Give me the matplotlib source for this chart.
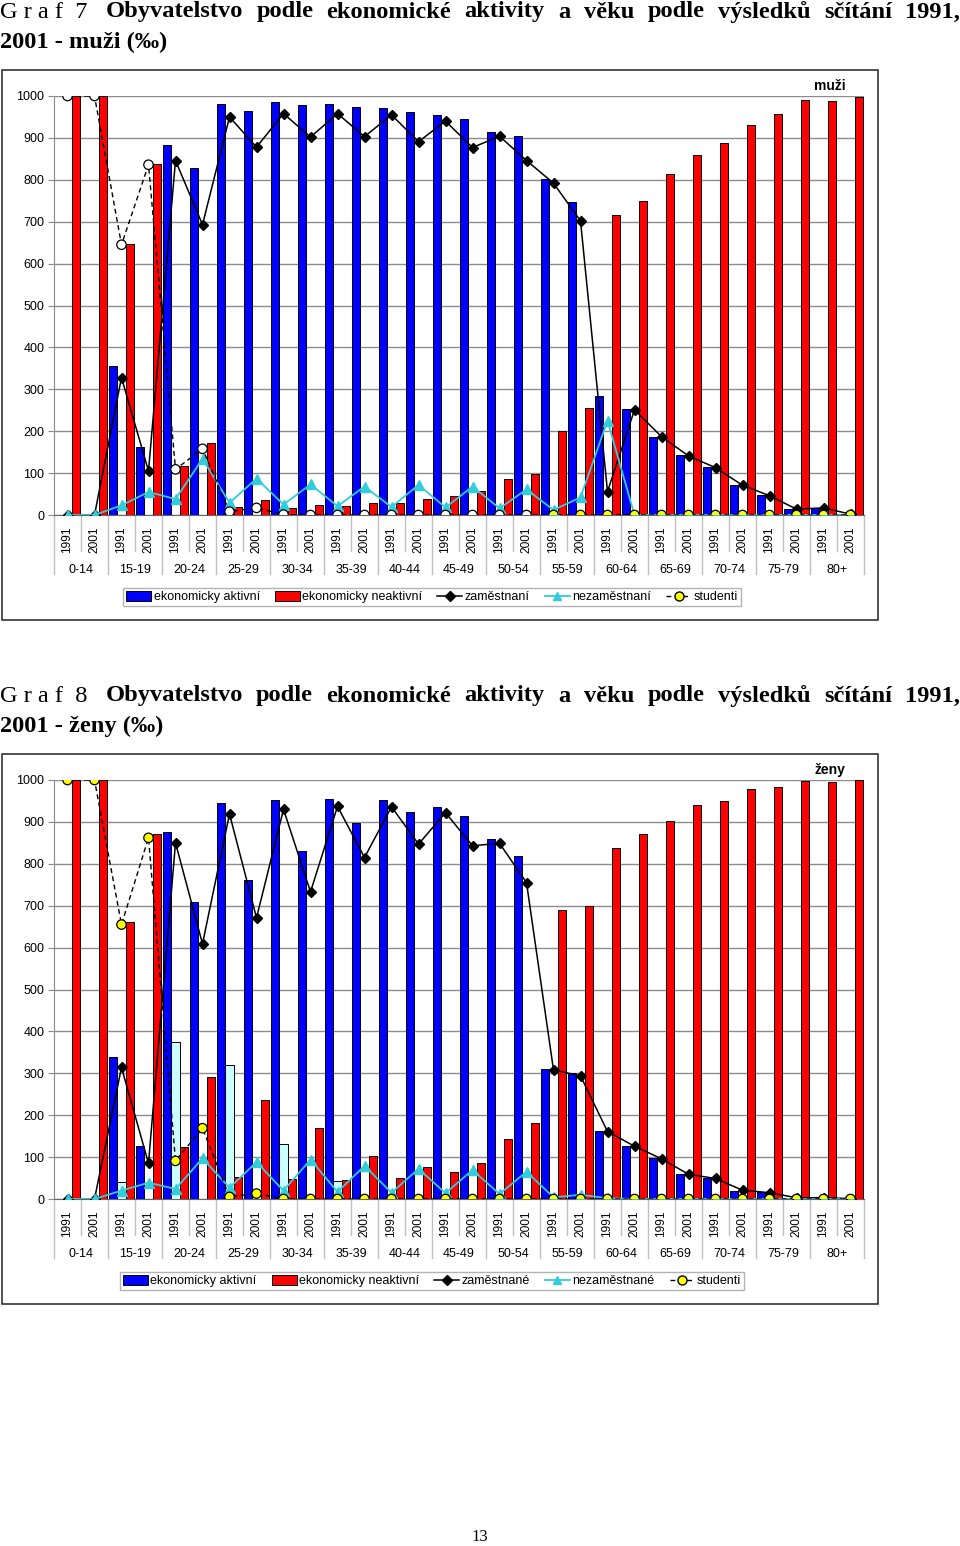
import matplotlib
matplotlib.use('Agg')
import matplotlib.pyplot as plt
from matplotlib.patches import Rectangle, Patch
from matplotlib.lines import Line2D
import numpy as np

W, H = 960, 1546

groups = ['0-14', '15-19', '20-24', '25-29', '30-34', '35-39', '40-44', '45-49',
          '50-54', '55-59', '60-64', '65-69', '70-74', '75-79', '80+']
years = ['1991', '2001']

# muzi (per mille)
muzi_aktivni = [0, 0, 355, 162, 883, 828, 980, 965, 985, 978, 980, 974, 972, 963, 955, 945,
                915, 905, 801, 748, 285, 252, 187, 143, 114, 72, 48, 14, 16, 2]
muzi_neaktivni = [1000, 1000, 647, 838, 118, 173, 20, 36, 17, 23, 21, 28, 29, 38, 45, 57,
                  86, 97, 201, 255, 717, 749, 815, 860, 889, 931, 956, 990, 987, 998]
muzi_stred = [0] * 30
muzi_zam = [0, 0, 328, 105, 846, 693, 950, 878, 958, 902, 958, 903, 955, 891, 940, 877,
            904, 846, 792, 702, 56, 251, 187, 141, 113, 71, 46, 14, 17, 2]
muzi_nezam = [0, 0, 23, 55, 38, 134, 29, 87, 25, 73, 21, 68, 19, 72, 18, 68,
              16, 61, 12, 42, 225, 0, 0, 0, 0, 0, 0, 0, 0, 0]
muzi_stud = [1000, 1000, 645, 836, 109, 158, 8, 17, 1, 0, 0, 0, 0, 0, 0, 0,
             0, 0, 0, 0, 0, 0, 0, 0, 0, 0, 0, 0, 0, 0]

# zeny (per mille)
zeny_aktivni = [0, 0, 338, 127, 875, 710, 946, 762, 952, 831, 955, 898, 952, 924, 935, 915,
                858, 819, 310, 300, 162, 126, 97, 59, 51, 20, 16, 3, 3, 1]
zeny_neaktivni = [1000, 1000, 660, 871, 125, 290, 53, 237, 48, 169, 45, 102, 49, 76, 65, 85,
                  143, 181, 689, 699, 838, 872, 903, 941, 950, 979, 984, 997, 996, 1000]
zeny_stred = [0, 0, 41, 0, 375, 0, 320, 0, 131, 0, 43, 0, 0, 0, 0, 0,
              0, 0, 0, 0, 0, 0, 0, 0, 0, 0, 0, 0, 0, 0]
zeny_zam = [0, 0, 314, 85, 850, 609, 919, 671, 930, 733, 937, 815, 936, 847, 922, 843,
            849, 755, 308, 294, 161, 126, 96, 59, 49, 21, 15, 3, 3, 1]
zeny_nezam = [0, 0, 20, 39, 24, 97, 27, 88, 20, 94, 17, 79, 15, 72, 14, 69,
              12, 65, 4, 10, 2, 0, 0, 0, 0, 0, 0, 0, 0, 0]
zeny_stud = [1000, 1000, 655, 862, 91, 169, 5, 13, 0, 0, 0, 0, 0, 0, 0, 0,
             0, 0, 0, 0, 0, 0, 0, 0, 0, 0, 0, 0, 0, 0]

BLUE = '#0000FF'
RED = '#FF0000'
LIGHT = '#CCFFFF'
CYAN = '#33CCDD'
YELLOW = '#FFFF00'
GRID = '#8c8c8c'
SEP = '#c0c0c0'

plt.rcParams['font.family'] = ['Liberation Sans', 'DejaVu Sans']

fig = plt.figure(figsize=(W / 100, H / 100), dpi=100)


def fx(x):
    return x / W


def fy(y):
    return 1 - y / H


def chart(box_top, aktivni, neaktivni, stred, zam, nezam, stud, stud_faces, nadpis, lab_zam, lab_nezam):
    # outer frame of the chart
    fig.patches.append(Rectangle((fx(2), fy(box_top + 550)), fx(876), 550 / H, transform=fig.transFigure,
                                 fill=False, edgecolor='#333333', lw=1.2))
    y0 = box_top + 445   # value 0
    y1 = box_top + 26    # value 1000
    ax = fig.add_axes([fx(54), fy(y0), fx(810), (y0 - y1) / H])
    n = len(aktivni)
    x = np.arange(n)
    bw = 0.31
    ax.bar(x - bw, aktivni, bw, color=BLUE, edgecolor='black', lw=0.7, zorder=2)
    ax.bar(x, stred, bw, color=LIGHT, edgecolor='black', lw=0.7, zorder=2)
    ax.bar(x + bw, neaktivni, bw, color=RED, edgecolor='black', lw=0.7, zorder=2)
    ax.plot(x, zam, color='black', lw=1.1, marker='D', ms=5.5, mfc='black', mec='black', zorder=4)
    ax.plot(x, nezam, color=CYAN, lw=1.3, marker='^', ms=6.5, mfc=CYAN, mec=CYAN, zorder=5)
    ax.plot(x, stud, color='black', lw=1.0, ls=(0, (3.5, 2.5)), zorder=6)
    ax.scatter(x, stud, s=46, c=stud_faces, edgecolors='black', linewidths=0.9, zorder=7)

    ax.set_xlim(-0.5, n - 0.5)
    ax.set_ylim(0, 1000)
    ax.set_yticks(range(0, 1001, 100))
    ax.yaxis.grid(True, color=GRID, lw=1.0)
    ax.set_axisbelow(True)
    ax.set_xticks([])
    ax.tick_params(axis='y', length=4, color=GRID, labelsize=9, pad=3)
    for s in ('top', 'right'):
        ax.spines[s].set_visible(False)
    ax.spines['left'].set_color(GRID)
    ax.spines['bottom'].set_color('#666666')

    # two level category axis
    tr = ax.get_xaxis_transform()
    ph = y0 - y1
    for i in range(n):
        ax.text(i, -(540 - 515) / ph, years[i % 2], rotation=90, ha='center', va='center',
                fontsize=8.6, transform=tr)
    for g, name in enumerate(groups):
        ax.text(2 * g + 0.5, -(570 - 515) / ph, name, ha='center', va='center', fontsize=9, transform=tr)
    for i in range(n + 1):
        if i % 2 == 0:
            ln = (574 - 515) / ph
        else:
            ln = (551 - 515) / ph
        ax.plot([i - 0.5, i - 0.5], [0, -ln], color=SEP, lw=1.0, transform=tr, clip_on=False)

    fig.text(fx(830), fy(box_top + 16), nadpis, ha='center', va='center', fontsize=10, fontweight='bold')

    handles = [Patch(facecolor=BLUE, edgecolor='black', lw=0.7),
               Patch(facecolor=RED, edgecolor='black', lw=0.7),
               Line2D([], [], color='black', lw=1.1, marker='D', ms=5, mfc='black'),
               Line2D([], [], color=CYAN, lw=1.3, marker='^', ms=6, mfc=CYAN, mec=CYAN),
               Line2D([], [], color='black', lw=1.0, ls=(0, (3.5, 2.5)), marker='o', ms=6.5,
                      mfc=YELLOW, mec='black')]
    labels = ['ekonomicky aktivní', 'ekonomicky neaktivní', lab_zam, lab_nezam, 'studenti']
    leg = fig.legend(handles, labels, loc='center', bbox_to_anchor=(fx(432), fy(box_top + 527)),
                     ncol=5, fontsize=9, frameon=True, fancybox=False, edgecolor='#a0a0a0',
                     handlelength=2.0, handleheight=0.8, handletextpad=0.2, columnspacing=1.2,
                     borderpad=0.25, borderaxespad=0)
    leg.get_frame().set_linewidth(1.0)
    return ax


def title(y_top, cislo, text1, text2):
    # first line is justified to the full page width, like in the source document
    r = fig.canvas.get_renderer()
    t0 = fig.text(0, fy(y_top), cislo, ha='left', va='center', fontsize=17.6,
                  family='Liberation Serif')
    words = text1.split(' ')
    objs = [fig.text(0, fy(y_top), w, ha='left', va='center', fontsize=17.6, family='Liberation Serif',
                     fontweight='bold') for w in words]
    w0 = t0.get_window_extent(r).width
    widths = [o.get_window_extent(r).width for o in objs]
    start = w0 + 18
    gap = (W - start - sum(widths)) / (len(words) - 1)
    pos = start
    for o, w in zip(objs, widths):
        o.set_x(pos / W)
        pos += w + gap
    fig.text(0, fy(y_top + 30), text2, ha='left', va='center', fontsize=17.6,
             family='Liberation Serif', fontweight='bold')


faces_m = ['white'] * 18 + [YELLOW] * 12
faces_z = [YELLOW] * 30

title(12, 'G r a f  7', 'Obyvatelstvo podle ekonomické aktivity a věku podle výsledků sčítání 1991,',
      '2001 - muži (‰)')
chart(70, muzi_aktivni, muzi_neaktivni, muzi_stred, muzi_zam, muzi_nezam, muzi_stud, faces_m,
      'muži', 'zaměstnaní', 'nezaměstnaní')

title(696, 'G r a f  8', 'Obyvatelstvo podle ekonomické aktivity a věku podle výsledků sčítání 1991,',
      '2001 - ženy (‰)')
chart(754, zeny_aktivni, zeny_neaktivni, zeny_stred, zeny_zam, zeny_nezam, zeny_stud, faces_z,
      'ženy', 'zaměstnané', 'nezaměstnané')

fig.text(0.5, fy(1537), '13', ha='center', va='center', fontsize=12, family='Liberation Serif')

fig.savefig('out.png', dpi=100)
